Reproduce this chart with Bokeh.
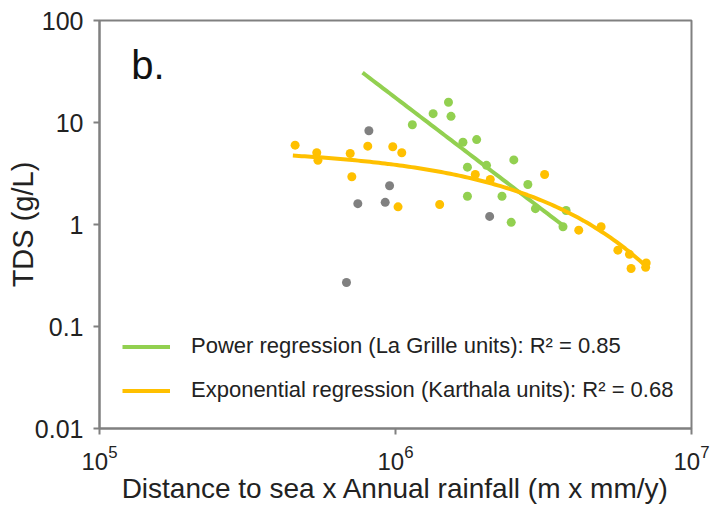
import numpy as np
from bokeh.plotting import figure
from bokeh.models import FixedTicker, Legend, LegendItem, Label
from bokeh.embed import file_html
from bokeh.resources import INLINE

# ---- data ----
# La Grille units (green)
green_x = [1.14e6, 1.34e6, 1.51e6, 1.54e6, 1.69e6, 1.88e6, 2.51e6, 1.75e6,
           2.03e6, 2.80e6, 1.75e6, 2.29e6, 2.46e6, 2.97e6, 3.68e6, 3.77e6]
green_y = [9.5, 12.2, 15.8, 11.5, 6.4, 6.8, 4.3, 3.65,
           3.8, 2.47, 1.89, 1.89, 1.05, 1.43, 0.95, 1.37]
# other units (grey)
grey_x = [8.13e5, 9.55e5, 7.46e5, 9.23e5, 2.08e6, 6.83e5]
grey_y = [8.3, 2.4, 1.6, 1.65, 1.2, 0.27]
# Karthala units (orange)
orange_x = [4.58e5, 5.42e5, 5.47e5, 7.03e5, 8.06e5, 9.79e5, 1.05e6, 7.12e5,
            1.02e6, 1.41e6, 1.86e6, 2.09e6, 3.19e6, 4.16e6, 4.95e6, 5.64e6,
            6.17e6, 6.25e6, 7.03e6, 7.0e6]
orange_y = [6.0, 5.05, 4.27, 4.97, 5.86, 5.78, 5.05, 2.94,
            1.49, 1.57, 3.09, 2.76, 3.09, 0.88, 0.95, 0.56,
            0.51, 0.37, 0.42, 0.38]

# regression parameters
power_coef, power_exp = 3.27e14, -2.212          # y = a * x^b
power_xmin, power_xmax = 7.74e5, 3.72e6
expo_coef, expo_rate = 5.62, 3.80e-7             # y = A * exp(-k x)
expo_xmin, expo_xmax = 4.5e5, 7.03e6

x_ticks = [1e5, 1e6, 1e7]
y_ticks = [0.01, 0.1, 1, 10, 100]
y_tick_labels = ["0.01", "0.1", "1", "10", "100"]

legend_labels = ["Power regression (La Grille units): R\u00b2 = 0.85",
                 "Exponential regression (Karthala units): R\u00b2 = 0.68"]

GREEN = "#92D050"
ORANGE = "#FFC000"
GREY = "#808080"
FONT = "Liberation Sans"
AXIS_COL = "#808080"

p = figure(width=710, height=506, x_axis_type="log", y_axis_type="log",
           x_range=(1e5, 1e7), y_range=(0.01, 100),
           output_backend="svg", toolbar_location=None,
           min_border_left=99, min_border_right=19, min_border_top=20,
           min_border_bottom=78)
p.grid.visible = False
p.outline_line_color = AXIS_COL
p.outline_line_width = 2
p.background_fill_color = "white"
p.border_fill_color = "white"

# points
p.scatter(grey_x, grey_y, size=9, color=GREY, line_color=None)
p.scatter(orange_x, orange_y, size=9, color=ORANGE, line_color=None)
p.scatter(green_x, green_y, size=9, color=GREEN, line_color=None)

# regression curves
gx = np.geomspace(power_xmin, power_xmax, 60)
gy = power_coef * gx ** power_exp
ox = np.geomspace(expo_xmin, expo_xmax, 120)
oy = expo_coef * np.exp(-expo_rate * ox)
gl = p.line(gx, gy, line_color=GREEN, line_width=4)
ol = p.line(ox, oy, line_color=ORANGE, line_width=4)

# axes
for ax in (p.xaxis[0], p.yaxis[0]):
    ax.axis_line_color = AXIS_COL
    ax.axis_line_width = 2
    ax.major_tick_line_color = AXIS_COL
    ax.major_tick_line_width = 2
    ax.major_tick_out = 6
    ax.major_tick_in = 0
    ax.minor_tick_line_color = None
    ax.major_label_text_font = FONT
    ax.major_label_text_color = "#222222"
    ax.axis_label_text_font = FONT
    ax.axis_label_text_color = "#222222"
    ax.axis_label_text_font_style = "normal"

p.xaxis.ticker = FixedTicker(ticks=x_ticks, minor_ticks=[])
p.yaxis.ticker = FixedTicker(ticks=y_ticks, minor_ticks=[])
p.yaxis.major_label_overrides = dict(zip(y_ticks, y_tick_labels))
p.xaxis.major_label_text_font_size = "24px"
p.yaxis.major_label_text_font_size = "25px"
p.xaxis.major_label_standoff = 10
p.yaxis.major_label_standoff = 10
p.xaxis.axis_label = "Distance to sea x Annual rainfall (m x mm/y)"
p.yaxis.axis_label = "TDS (g/L)"
p.xaxis.axis_label_text_font_size = "28px"
p.yaxis.axis_label_text_font_size = "29px"
p.xaxis.axis_label_standoff = 0
p.yaxis.axis_label_standoff = -7

# panel tag
p.add_layout(Label(x=1.28e5, y=37, text="b.", text_font=FONT,
                   text_font_size="40px", text_color="#111111",
                   text_baseline="alphabetic"))

legend = Legend(items=[LegendItem(label=legend_labels[0], renderers=[gl]),
                       LegendItem(label=legend_labels[1], renderers=[ol])],
                location=(23, 25), border_line_color=None,
                background_fill_alpha=0, glyph_width=48, glyph_height=25,
                label_height=25, label_standoff=21, spacing=18,
                padding=0, margin=0, label_text_font=FONT,
                label_text_font_size="22px", label_text_color="#222222")
p.add_layout(legend)

open("out.html", "w").write(file_html(p, INLINE))
